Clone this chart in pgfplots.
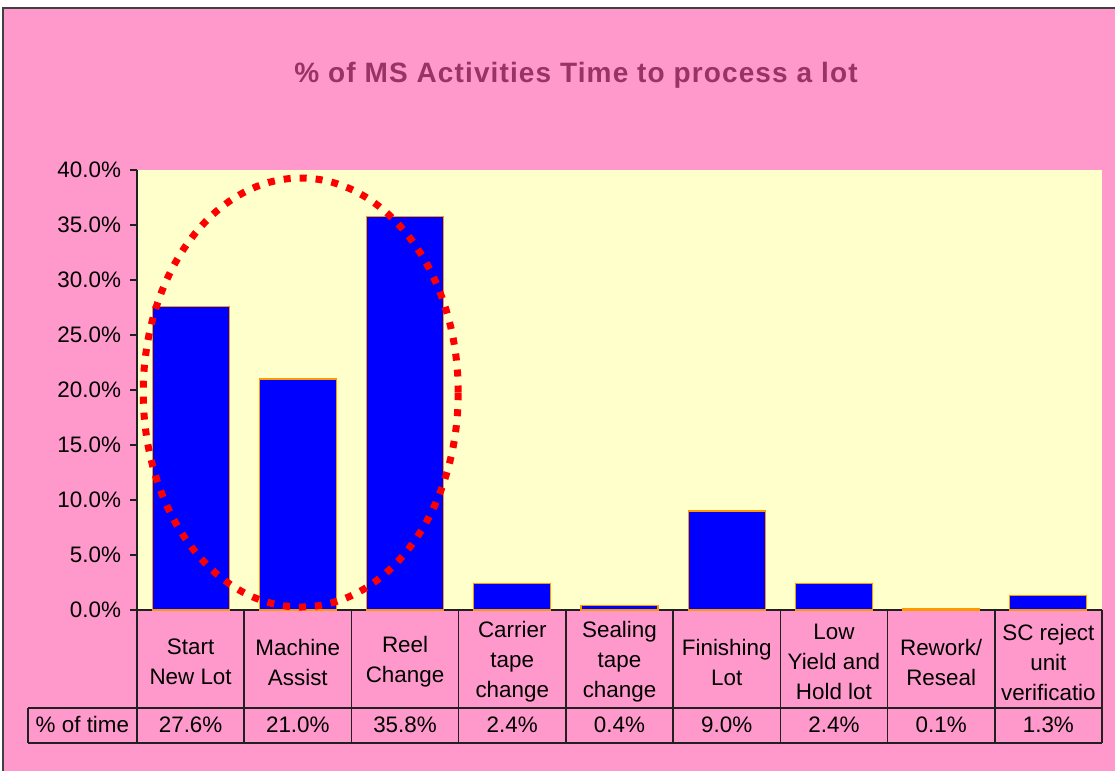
\documentclass[border=0pt]{standalone}
\usepackage{fontspec}
\setmainfont{Liberation Sans}
\usepackage{pgfplots}
\pgfplotsset{compat=1.18}
\definecolor{chartpink}{HTML}{FF99CC}
\definecolor{plotyellow}{HTML}{FFFFCC}
\definecolor{barblue}{HTML}{0000FF}
\definecolor{barorange}{HTML}{FF9900}
\definecolor{titleplum}{HTML}{993366}
\definecolor{tableline}{HTML}{202020}

\begin{document}
\begin{tikzpicture}
\useasboundingbox (0,0) rectangle (557.5pt,385.5pt);
\clip (0,0) rectangle (557.5pt,385.5pt);
\fill[white] (0,0) rectangle (557.5pt,385.5pt);
% outer chart area
\draw[fill=chartpink, draw=black!75, line width=1pt] (1.5pt,-5pt) rectangle (565pt,381.5pt);
\node[anchor=base, text=titleplum,
      font=\fontsize{14}{16}\selectfont\bfseries]
  at (288pt,344pt) {\addfontfeature{LetterSpace=4}\% of MS Activities Time to process a lot};

\begin{axis}[
  at={(68.5pt,80.5pt)}, anchor=south west,
  scale only axis, width=482.5pt, height=220pt,
  xmin=-0.5, xmax=8.5, ymin=0, ymax=40,
  clip=false,
  axis background/.style={fill=plotyellow},
  axis lines*=left,
  axis line style={draw=tableline, line width=0.75pt, -},
  ytick={0,5,...,40},
  yticklabel={\pgfmathprintnumber[fixed,fixed zerofill,precision=1,assume math mode=true]{\tick}\%},
  tick align=outside, major tick length=3.5pt,
  ytick style={draw=tableline, line width=0.75pt},
  yticklabel style={xshift=-1pt},
  xtick={0,...,8}, xtick style={draw=none},
  xticklabels={{Start\\New Lot},{Machine\\Assist},{Reel\\Change},{Carrier\\tape\\change},{Sealing\\tape\\change},{Finishing\\Lot},{Low\\Yield and\\Hold lot},{Rework/\\Reseal},{SC reject\\unit\\verificatio}},
  tick label style={font=\fontsize{11.2}{15}\selectfont},
  xticklabel style={align=center, anchor=center, yshift=-22.5pt},
]
  \addplot[ybar, bar width=38.5pt, fill=barblue, draw=barorange, line width=0.6pt]
    coordinates {(0,27.6) (1,21.0) (2,35.8) (3,2.4) (4,0.4) (5,9.0) (6,2.4) (7,0.1) (8,1.3)};

  % highlight ellipse
  \draw[red, line width=3.5pt, dash pattern=on 3.5pt off 4.5pt]
    (axis cs:1.027,19.77) ellipse [x radius=78.75pt, y radius=107.25pt];

  % data table grid
  \draw[tableline, line width=0.75pt]
    (axis cs:-1.518,-8.909) -- (axis cs:8.5,-8.909)
    (axis cs:-1.518,-12.09) -- (axis cs:8.5,-12.09)
    (axis cs:-1.518,-8.909) -- (axis cs:-1.518,-12.09)
    (axis cs:-0.5,0) -- (axis cs:-0.5,-12.09)
    (axis cs:0.5,0) -- (axis cs:0.5,-12.09)
    (axis cs:1.5,0) -- (axis cs:1.5,-12.09)
    (axis cs:2.5,0) -- (axis cs:2.5,-12.09)
    (axis cs:3.5,0) -- (axis cs:3.5,-12.09)
    (axis cs:4.5,0) -- (axis cs:4.5,-12.09)
    (axis cs:5.5,0) -- (axis cs:5.5,-12.09)
    (axis cs:6.5,0) -- (axis cs:6.5,-12.09)
    (axis cs:7.5,0) -- (axis cs:7.5,-12.09)
    (axis cs:8.5,0) -- (axis cs:8.5,-12.09);
  \node[font=\fontsize{11.2}{15}\selectfont] at (axis cs:-1.009,-10.45) {\% of time};
  \node[font=\fontsize{11.2}{15}\selectfont] at (axis cs:0,-10.45) {27.6\%};
  \node[font=\fontsize{11.2}{15}\selectfont] at (axis cs:1,-10.45) {21.0\%};
  \node[font=\fontsize{11.2}{15}\selectfont] at (axis cs:2,-10.45) {35.8\%};
  \node[font=\fontsize{11.2}{15}\selectfont] at (axis cs:3,-10.45) {2.4\%};
  \node[font=\fontsize{11.2}{15}\selectfont] at (axis cs:4,-10.45) {0.4\%};
  \node[font=\fontsize{11.2}{15}\selectfont] at (axis cs:5,-10.45) {9.0\%};
  \node[font=\fontsize{11.2}{15}\selectfont] at (axis cs:6,-10.45) {2.4\%};
  \node[font=\fontsize{11.2}{15}\selectfont] at (axis cs:7,-10.45) {0.1\%};
  \node[font=\fontsize{11.2}{15}\selectfont] at (axis cs:8,-10.45) {1.3\%};
\end{axis}
\end{tikzpicture}
\end{document}
